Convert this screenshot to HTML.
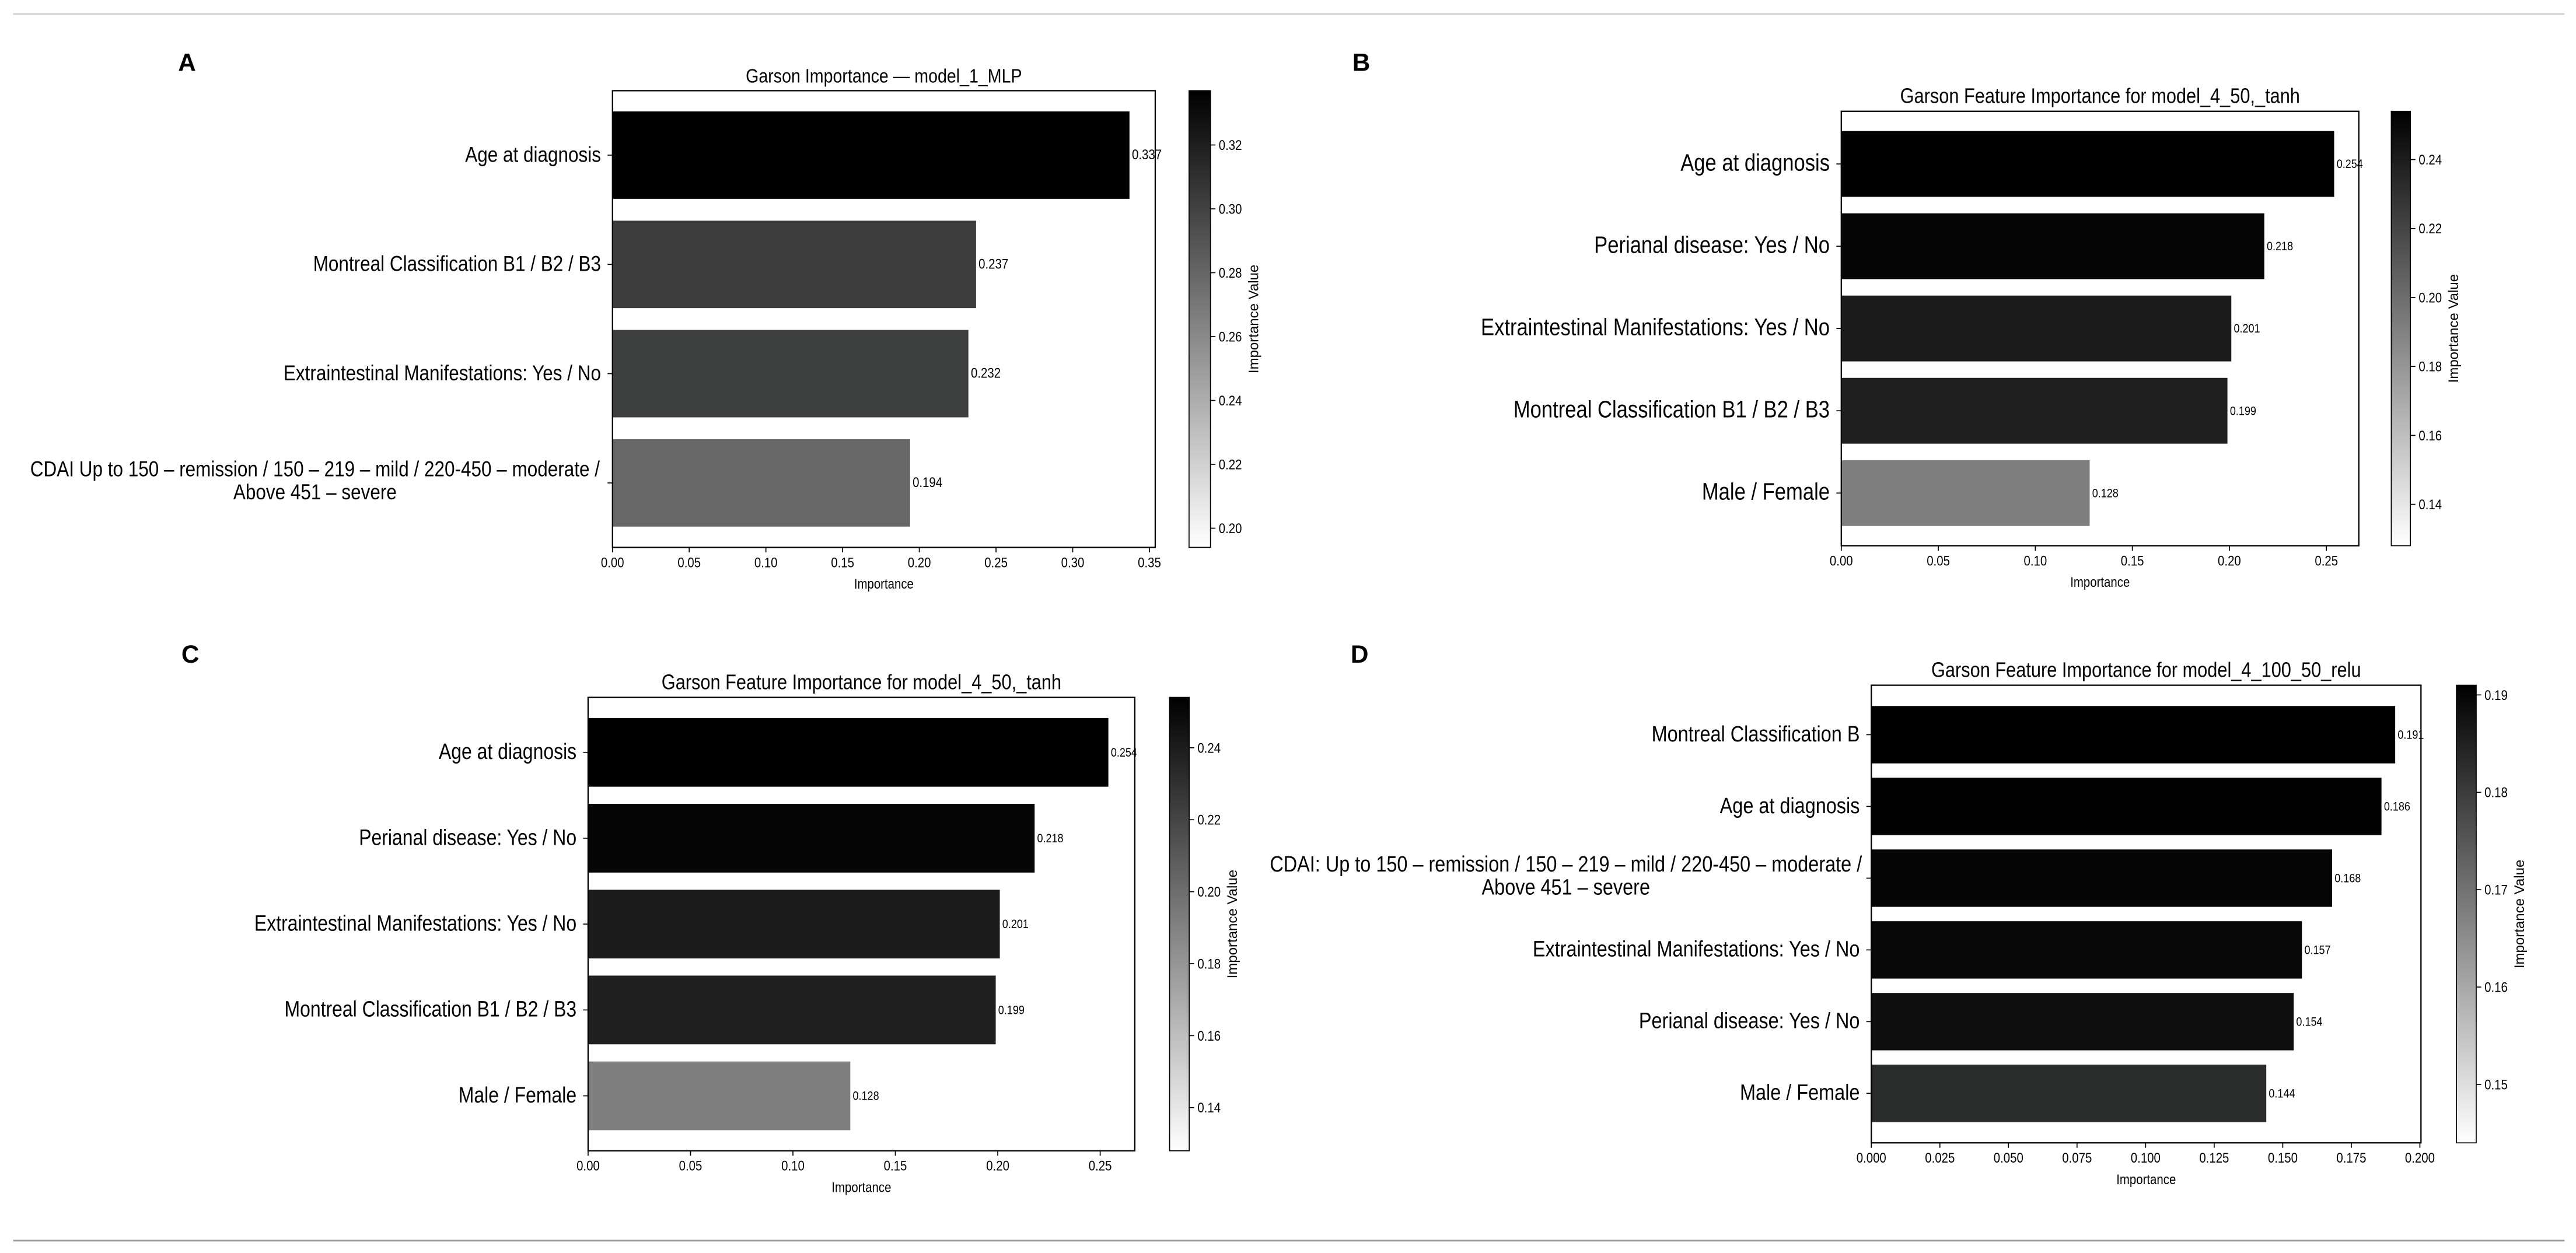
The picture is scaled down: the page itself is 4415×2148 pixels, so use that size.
<!DOCTYPE html>
<html><head><meta charset="utf-8">
<style>
html,body{margin:0;padding:0;background:#fff;}
svg{display:block;}
text{font-family:"Liberation Sans",sans-serif;fill:#000;}
.letter{font-family:"Liberation Sans",sans-serif;font-weight:bold;font-size:15px;}
</style></head>
<body>
<svg id="fig" width="4415" height="2148" viewBox="0 0 1562 760" preserveAspectRatio="none" xmlns="http://www.w3.org/2000/svg">
<defs>
<linearGradient id="cbgrad" x1="0" y1="1" x2="0" y2="0">
<stop offset="0" stop-color="#ffffff"/><stop offset="1" stop-color="#000000"/>
</linearGradient>
</defs>
<line x1="8" y1="8.5" x2="1555" y2="8.5" stroke="#cfcfcf" stroke-width="1"/>
<line x1="8" y1="752.5" x2="1555" y2="752.5" stroke="#9a9a9a" stroke-width="1"/>
<text class="letter" x="108" y="43">A</text>
<text class="letter" x="820" y="43">B</text>
<text class="letter" x="110" y="402">C</text>
<text class="letter" x="819" y="402">D</text>
</svg>
<script>
// Panel A data
const aCategories = ["Age at diagnosis","Montreal Classification B1 / B2 / B3","Extraintestinal Manifestations: Yes / No","CDAI Up to 150 – remission  / 150 – 219 – mild / 220-450 – moderate /|Above 451 – severe"];
const aValues = [0.337,0.237,0.232,0.194];
const aXTicks = [0,0.05,0.10,0.15,0.20,0.25,0.30,0.35];
const aCbTicks = [0.20,0.22,0.24,0.26,0.28,0.30,0.32];
// Panel B data
const bCategories = ["Age at diagnosis","Perianal disease: Yes / No","Extraintestinal Manifestations: Yes / No","Montreal Classification B1 / B2 / B3","Male / Female"];
const bValues = [0.254,0.218,0.201,0.199,0.128];
const bXTicks = [0,0.05,0.10,0.15,0.20,0.25];
const bCbTicks = [0.14,0.16,0.18,0.20,0.22,0.24];
// Panel C data
const cCategories = ["Age at diagnosis","Perianal disease: Yes / No","Extraintestinal Manifestations: Yes / No","Montreal Classification B1 / B2 / B3","Male / Female"];
const cValues = [0.254,0.218,0.201,0.199,0.128];
const cXTicks = [0,0.05,0.10,0.15,0.20,0.25];
const cCbTicks = [0.14,0.16,0.18,0.20,0.22,0.24];
// Panel D data
const dCategories = ["Montreal Classification B","Age at diagnosis","CDAI: Up to 150 – remission / 150 – 219 – mild / 220-450 – moderate /|Above 451 – severe","Extraintestinal Manifestations: Yes / No","Perianal disease: Yes / No","Male / Female"];
const dValues = [0.191,0.186,0.168,0.157,0.154,0.144];
const dXTicks = [0,0.025,0.05,0.075,0.10,0.125,0.15,0.175,0.20];
const dCbTicks = [0.15,0.16,0.17,0.18,0.19];

const NS="http://www.w3.org/2000/svg";
const svg=document.getElementById('fig');
const SQ=0.85;
function mk(tag,attrs,parent){const e=document.createElementNS(NS,tag);for(const k in attrs)e.setAttribute(k,attrs[k]);(parent||svg).appendChild(e);return e;}
function txt(parent,x,y,str,size,anchor){
  const t=mk('text',{x:0,y:0,'font-size':size,'text-anchor':anchor||'start',transform:`translate(${x},${y}) scale(${SQ},1)`},parent);
  t.textContent=str;return t;
}

function panel(p){
  const g=mk('g',{});
  
  
  const n=p.cats.length;
  const sx=v=>p.x0+(v/p.xmax)*(p.x1-p.x0);
  const span=(n-0.2)*1.1;
  const unit=(p.y1-p.y0)/span;
  const yStart=-0.4-0.05*(n-0.2);
  const sy=i=>p.y0+(i-yStart)*unit;
  const bh=unit*0.8;
  const t=txt(g,(p.x0+p.x1)/2,p.y0-5,p.title,p.tfs,'middle');
  
  
  p.vals.forEach((v,i)=>{
    const cy=sy(i);
    const r=mk('rect',{x:p.x0,y:cy-bh/2,width:sx(v)-p.x0,height:bh,fill:p.colors[i]},g);
    
    
    const vl=txt(g,sx(v)+1.5,cy+2.5,v.toFixed(3),p.vfs,'start');
    
    
    mk('line',{x1:p.x0-3,x2:p.x0,y1:cy,y2:cy,stroke:'#000','stroke-width':0.6},g);
    const lines=p.cats[i].split('|');
    if(lines.length===1){
      const lab=txt(g,p.x0-7,cy+4,lines[0],p.lfs,'end');
      
      
    } else {
      lines.forEach((s,k)=>{
        const lab=txt(g,p.multiX,cy+3+(k-0.5)*14,s,p.lfs,'middle');
        
        
      });
    }
  });
  const fr=mk('rect',{x:p.x0,y:p.y0,width:p.x1-p.x0,height:p.y1-p.y0,fill:'none',stroke:'#000','stroke-width':0.8},g);
  
  
  p.xt.forEach((v,i)=>{
    const x=sx(v);
    mk('line',{x1:x,x2:x,y1:p.y1,y2:p.y1+3,stroke:'#000','stroke-width':0.6},g);
    const tl=txt(g,x,p.y1+12,v.toFixed(p.dec),p.xfs,'middle');
    
    
  });
  const xl=txt(g,(p.x0+p.x1)/2,p.y1+25,'Importance',p.xfs,'middle');
  
  
  const mn=Math.min(...p.vals),mx=Math.max(...p.vals);
  const cy=v=>p.cb1-(v-mn)/(mx-mn)*(p.cb1-p.cb0);
  const cb=mk('rect',{x:p.cbx,y:p.cb0,width:p.cbw,height:p.cb1-p.cb0,fill:'url(#cbgrad)',stroke:'#000','stroke-width':0.6},g);
  
  
  p.cbt.forEach((v,i)=>{
    const y=cy(v);
    mk('line',{x1:p.cbx+p.cbw,x2:p.cbx+p.cbw+3,y1:y,y2:y,stroke:'#000','stroke-width':0.6},g);
    const tl=txt(g,p.cbx+p.cbw+5,y+3,v.toFixed(2),p.xfs,'start');
    
    
  });
  const cl=mk('text',{x:0,y:0,'text-anchor':'middle','font-size':8.5,'font-family':'DejaVu Sans, sans-serif',transform:`translate(${p.cbx+p.cbw+29},${(p.cb0+p.cb1)/2}) rotate(-90)`},g);
  
  
  cl.textContent='Importance Value';
}

panel({id:'panel-a',title:'Garson Importance — model_1_MLP',cats:aCategories,vals:aValues,xt:aXTicks,cbt:aCbTicks,
  colors:['#000000','#3d3d3d','#3e3f3f','#666766'],
  x0:371.4,x1:700.5,y0:55,y1:332,xmax:0.3538,dec:2,tfs:11.9,lfs:13.1,vfs:8.5,xfs:8.5,multiX:191,
  cbx:721,cbw:13,cb0:55,cb1:332});
panel({id:'panel-b',title:'Garson Feature Importance for model_4_50,_tanh',cats:bCategories,vals:bValues,xt:bXTicks,cbt:bCbTicks,
  colors:['#000000','#050505','#1c1c1c','#1f1f1f','#7f7f7f'],
  x0:1116.5,x1:1430.3,y0:67.5,y1:331,xmax:0.2667,dec:2,tfs:12.8,lfs:14.4,vfs:7.5,xfs:8.5,multiX:900,
  cbx:1450,cbw:11.6,cb0:67.5,cb1:331});
panel({id:'panel-c',title:'Garson Feature Importance for model_4_50,_tanh',cats:cCategories,vals:cValues,xt:cXTicks,cbt:cCbTicks,
  colors:['#000000','#050505','#1c1c1c','#1f1f1f','#7f7f7f'],
  x0:356.6,x1:688.1,y0:423,y1:698,xmax:0.2669,dec:2,tfs:12.8,lfs:13.3,vfs:7.5,xfs:8.5,multiX:200,
  cbx:709.2,cbw:11.9,cb0:423,cb1:698});
panel({id:'panel-d',title:'Garson Feature Importance for model_4_100_50_relu',cats:dCategories,vals:dValues,xt:dXTicks,cbt:dCbTicks,
  colors:['#000000','#020202','#050505','#080808','#0f0f0f','#2a2b2b'],
  x0:1134.7,x1:1468,y0:415.6,y1:693.2,xmax:0.2004,dec:3,tfs:12.8,lfs:13.5,vfs:7.5,xfs:8.5,multiX:949.5,
  cbx:1489.5,cbw:12,cb0:415.6,cb1:693.2});
</script>
</body></html>
